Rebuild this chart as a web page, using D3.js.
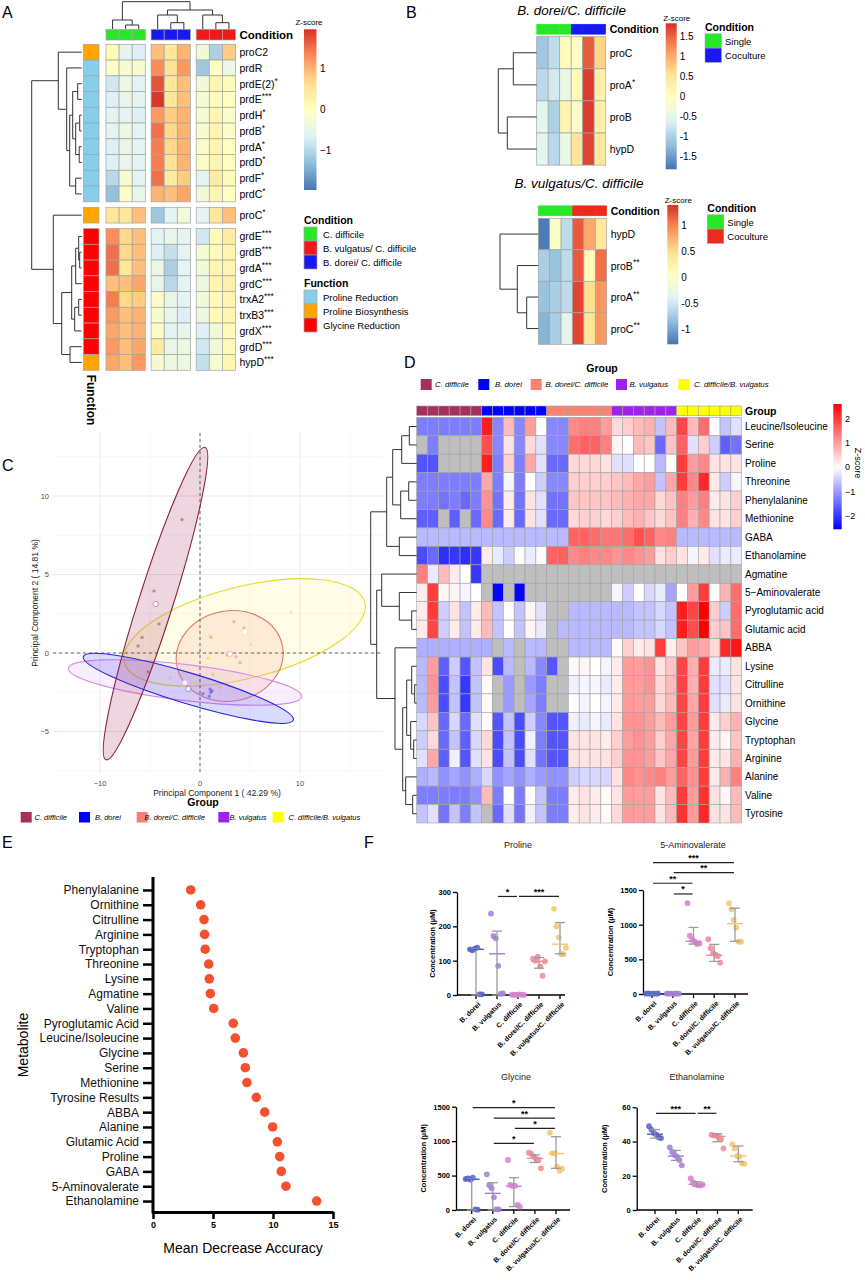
<!DOCTYPE html>
<html>
<head>
<meta charset="utf-8">
<script src="https://cdn.jsdelivr.net/npm/d3@7"></script>
<style>
  body { margin: 0; background: #fff; }
  svg text { font-family: "Liberation Sans", Arial, Helvetica, sans-serif; }
</style>
</head>
<body>
<svg id="fig" width="865" height="1280"></svg>
<script>
// ---------------- A : gene heatmap ----------------
var genesA = ["proC2","prdR","prdE(2)*","prdE***","prdH*","prdB*","prdA*","prdD*","prdF*","prdC*",
  "proC*","grdE***","grdB***","grdA***","grdC***","trxA2***","trxB3***","grdX***","grdD***","hypD***"];
var blockA = [0,0,0,0,0,0,0,0,0,0,1,2,2,2,2,2,2,2,2,2];
var functionA = ["Proline Biosynthesis","Proline Reduction","Proline Reduction","Proline Reduction","Proline Reduction",
  "Proline Reduction","Proline Reduction","Proline Reduction","Proline Reduction","Proline Reduction",
  "Proline Biosynthesis","Glycine Reduction","Glycine Reduction","Glycine Reduction","Glycine Reduction",
  "Glycine Reduction","Glycine Reduction","Glycine Reduction","Glycine Reduction","Proline Biosynthesis"];
var conditionA = ["C. difficile","C. difficile","C. difficile",
  "B. dorei/ C. difficile","B. dorei/ C. difficile","B. dorei/ C. difficile",
  "B. vulgatus/ C. difficile","B. vulgatus/ C. difficile","B. vulgatus/ C. difficile"];
var zA = [
  [0.1,-0.6,-0.7, 0.9,0.5,1.0, -0.3,-1.1,0.8],
  [-0.1,-0.2,-0.2, 1.3,0.6,1.2, -1.2,0.0,-0.4],
  [-0.8,-0.4,-0.6, 1.7,0.5,0.9, -0.3,0.2,0.1],
  [-0.7,-0.5,-0.6, 1.9,0.5,0.9, -0.2,0.1,0.0],
  [-0.6,-0.6,-0.7, 1.2,0.8,1.0, -0.2,0.2,-0.1],
  [-0.6,-0.4,-0.6, 1.5,0.7,1.0, -0.2,0.2,-0.1],
  [-0.7,-0.5,-0.6, 1.4,0.7,1.0, -0.1,0.2,0.0],
  [-0.7,-0.5,-0.6, 1.4,0.6,1.0, -0.1,0.2,0.0],
  [-1.0,-0.2,-0.6, 1.5,0.4,0.8, -0.6,0.4,0.1],
  [-1.3,-0.1,-0.5, 1.0,0.9,1.1, -0.3,0.2,0.0],
  [0.5,0.5,0.9, -1.2,-0.6,-0.3, -0.6,0.5,0.9],
  [1.3,0.7,0.9, -0.6,-0.5,-0.6, -0.8,0.1,0.4],
  [1.5,0.7,0.9, -0.7,-0.9,-0.6, -0.2,0.1,0.2],
  [1.5,0.5,0.9, -0.4,-1.1,-0.6, -0.3,0.2,0.2],
  [0.9,0.9,1.1, -0.5,-1.0,-0.6, -0.4,0.2,0.3],
  [1.4,0.7,0.8, -0.1,-0.5,-0.6, -0.3,0.1,0.2],
  [1.2,0.9,1.0, -0.2,-0.5,-0.7, -0.4,0.1,0.2],
  [1.1,0.9,1.0, -0.1,-0.6,-0.5, -0.7,-0.3,0.1],
  [1.2,0.9,1.1, 0.4,-0.5,-0.4, -0.8,-0.3,0.1],
  [1.1,0.9,1.2, -0.2,-0.4,-0.4, -0.9,-0.2,0.2]
];
// trees: [height, child, child]; leaves are row / column indices
var rowTreeA = [50,
  [23.4, 0, [15, 1, [12, [9, [4, 2, 3], [6, [2, 4, 5], [2.5, 6, 7]]], [6, 8, 9]]]],
  [28.4, 10, [20, [10, [6, [3, 11, [2, 12, 13]], 14], [7, [3, 15, 16], 17]], [11.7, 18, 19]]]];
var colTreeA = [27.3, [9, 0, [4, 1, 2]], [19, [14, 3, [6.3, 4, 5]], [14, 6, [6.3, 7, 8]]]];
var conditionLegendA = ["C. difficile","B. vulgatus/ C. difficile","B. dorei/ C. difficile"];
var functionLegendA = ["Proline Reduction","Proline Biosynthesis","Glycine Reduction"];
var ticksA = [1, 0, -1];

// ---------------- B : proline genes ----------------
var genesB1 = ["proC","proA*","proB","hypD"];
var zB1 = [
  [-1.1,-0.85,0.1,-0.05,1.55,0.7],
  [-0.9,-0.7,-0.4,0.1,1.75,0.3],
  [-0.5,-1.0,0.2,-0.1,1.75,0.3],
  [-0.5,-0.9,-0.4,0.5,1.7,0.45]
];
var rowTreeB1 = [38.4, [23.4, 0, 1], [29.4, 2, 3]];
var genesB2 = ["hypD","proB**","proA**","proC**"];
var zB2 = [
  [-1.25,0.0,-0.6,1.2,0.8,0.4],
  [-0.7,-0.8,-0.6,1.2,0.1,1.1],
  [-0.8,-0.7,-0.6,1.3,0.5,0.9],
  [-0.9,-0.7,-0.3,1.3,0.4,0.9]
];
var rowTreeB2 = [38.3, 0, [21, 1, [11.6, 2, 3]]];
var conditionB = ["Single","Single","Single","Coculture","Coculture","Coculture"];
var ticksB1 = [1.5, 1, 0.5, 0, -0.5, -1, -1.5];
var ticksB2 = [1, 0.5, 0, -0.5, -1];

// ---------------- C : PCA ----------------
var groupsC = ["C. difficile","B. dorei","B. dorei/C. difficile","B. vulgatus","C. difficile/B. vulgatus"];
var groupColors = ["#a6305d","#0000ff","#fa8072","#a020f0","#ffff00"];
var ellipseEdge = ["#8c1f45","#2424e6","#dd7a68","#d68fe6","#e8d82c"];
var ellipseFill = ["#a6305d","#3030ff","#f39a88","#dca0f0","#fff27a"];
// centre, end of major axis, minor/major ratio
var ellCentre = [[-4.45,3.15],[-1.17,-2.25],[2.97,-0.19],[-1.5,-1.88],[4.45,1.31]];
var ellTip = [[0.5,13.1],[9.33,-4.27],[8.26,0.4],[10.17,-2.78],[16.48,3.22]];
var ellRatio = [0.105, 0.14, 0.84, 0.153, 0.37];
var pcaCdiff = [[-1.8,8.5],[-4.6,3.95],[-4.1,1.85],[-5.8,1.0],[-6.2,0.45],[-5.2,-1.2]];
var pcaBdorei = [[1.0,-2.3],[1.07,-2.5],[0.93,-2.75],[-1.5,-1.9],[1.2,-2.4],[0.3,-2.6]];
var pcaBdCd = [[1.1,1.0],[3.4,2.0],[4.4,1.6],[2.7,-0.13],[3.6,-0.23],[4.0,-0.6]];
var pcaBvulg = [[-5.3,-1.4],[1.3,-1.4],[-3.0,-1.6],[0.5,-2.0],[-2.0,-1.5],[2.0,-2.2]];
var pcaCdBv = [[9.1,2.6],[5.1,0.55],[1.0,1.1],[0.8,-0.34],[4.5,1.4],[1.23,-1.3]];
var pcaMeans = [[-4.43,3.12],[-1.17,-2.29],[3.0,-0.06],[-1.5,-1.89],[4.5,1.36]];

// ---------------- D : metabolite heatmap ----------------
var metabolitesD = ["Leucine/Isoleucine","Serine","Proline","Threonine","Phenylalanine","Methionine","GABA",
  "Ethanolamine","Agmatine","5\u2212Aminovalerate","Pyroglutamic acid","Glutamic acid","ABBA","Lysine",
  "Citrulline","Ornithine","Glycine","Tryptophan","Arginine","Alanine","Valine","Tyrosine"];
var samplesPerGroupD = 6;
var N = null;
var zD = [
  [-1.3,-1.3,-1.3,-1.3,-1.3,-1.3, 2.3,-1.2,0.7,-1.2,1.0,0.0, -1.2,-1.2,1.2,1.3,1.3,1.0, 0.4,0.5,0.7,0.8,-0.6,0.7, 1.9,0.7,1.5,0.0,-0.6,-0.3],
  [N,-1.3,N,N,N,N, 1.8,-1.2,0.3,-1.2,0.4,-0.3, -1.2,-1.2,1.5,1.6,1.6,1.3, 0.1,0.0,0.7,0.6,-1.5,0.6, 1.6,-0.3,0.5,-0.5,-1.6,-1.4],
  [-1.7,-1.7,N,N,N,N, 2.3,-1.3,0.5,-1.3,0.9,-0.3, -1.5,-1.5,0.4,0.4,0.4,0.3, -0.3,-0.3,0.0,0.0,-0.7,0.0, 2.0,1.0,1.2,0.3,0.3,0.3],
  [-1.3,-1.3,-1.3,-1.3,-1.3,-1.3, 0.9,-1.3,-0.1,-1.3,0.0,-0.5, -1.2,-1.2,0.5,0.5,0.5,0.5, 0.6,0.7,0.9,1.0,-0.6,0.9, 2.0,1.2,2.2,0.2,-0.5,-0.1],
  [-1.3,-1.3,-1.4,-1.3,-1.5,-1.3, 1.1,-1.4,0.2,-1.4,0.3,-0.3, -1.4,-1.4,0.6,0.6,0.6,0.6, 0.7,0.8,0.9,0.9,0.4,0.6, 1.3,1.0,1.3,0.2,0.3,0.5],
  [-1.6,-1.6,N,-1.6,N,-1.5, 1.2,-1.5,0.2,-1.5,0.3,-0.3, -1.5,-1.5,0.4,0.5,0.5,0.4, 0.5,0.7,0.8,0.6,0.4,0.6, 1.3,0.8,1.2,0.3,0.3,0.5],
  [-0.7,-0.7,-0.7,-0.7,-0.7,-0.7, -0.7,-0.7,-0.7,-0.7,-0.7,-0.7, -0.7,-0.7,1.6,1.6,1.5,1.4, 1.4,1.5,1.8,1.6,1.2,1.3, -0.7,-0.7,-0.7,-0.7,-0.7,-0.7],
  [-1.8,-1.5,-2.1,-2.0,-2.1,-2.0, 0.2,-0.2,-0.5,0.0,-0.2,0.05, 1.6,1.6,1.2,1.3,1.2,1.2, 1.1,1.2,1.1,1.0,0.3,0.5, 0.3,-0.1,0.2,-0.3,-0.2,-0.2],
  [1.3,-0.2,0.7,0.2,0.0,-2.0, N,N,N,N,N,N, N,N,N,N,N,N, N,N,N,N,N,N, N,N,N,N,N,N],
  [0.2,2.0,0.1,0.1,-0.1,0.0, N,-2.5,N,-2.5,N,N, N,N,N,N,N,N, -0.1,-0.5,0.0,-0.4,-0.2,-0.9, 0.0,1.0,2.0,0.0,0.8,1.5],
  [0.2,2.0,-0.5,0.3,-0.6,0.2, 0.7,-0.6,0.0,-0.6,0.1,-0.3, N,N,-0.7,-0.7,-0.7,-0.7, -0.7,-0.7,-0.6,-0.6,-0.4,-0.6, 2.3,1.9,2.6,0.5,-0.5,1.5],
  [0.2,1.9,-0.5,0.2,-0.6,0.2, 0.7,-0.6,0.0,-0.6,0.1,-0.2, N,-0.7,-0.7,-0.7,-0.7,-0.7, -0.7,-0.7,-0.6,-0.6,-0.4,-0.6, 2.3,1.8,2.6,0.5,0.6,1.5],
  [-0.8,-0.8,-0.8,-0.8,-0.8,-0.8, -0.8,N,-0.7,N,-0.7,-0.7, N,N,-0.7,-0.7,-0.7,-0.7, 0.05,0.5,0.2,0.3,2.0,0.15, 0.6,1.0,0.9,0.4,2.2,2.4],
  [-0.7,1.0,-1.6,-0.5,-1.7,-0.6, 0.3,-1.8,-0.7,N,-0.7,-1.2, -1.7,N,0.05,0.1,0.0,-0.1, 0.2,1.0,1.0,1.1,0.3,0.6, 1.9,0.8,2.0,-0.2,-0.2,0.3],
  [-0.7,1.1,-1.8,-0.6,-2.0,-0.6, 0.05,N,-1.0,N,-1.0,-1.3, N,N,-0.15,-0.1,-0.1,-0.2, 0.2,1.0,1.0,1.1,0.4,0.7, 1.9,0.8,2.0,-0.3,-0.3,0.3],
  [-0.7,1.0,-1.8,-0.6,-2.0,-0.6, 0.05,N,-1.0,N,-0.9,-1.3, N,N,0.0,-0.1,0.0,-0.1, 0.2,1.0,1.0,1.0,0.4,0.7, 1.9,0.9,2.0,-0.3,-0.2,0.3],
  [-0.4,0.6,-1.5,-0.4,-1.5,-0.3, 0.05,-1.7,-0.6,-1.8,-0.5,-1.2, -1.7,-1.7,-0.15,-0.2,-0.1,-0.2, 0.3,1.1,1.1,1.0,0.7,1.0, 1.9,1.0,2.0,0.2,0.5,0.8],
  [-0.5,0.4,-1.5,-0.6,-1.6,-0.4, 0.4,-1.8,-0.6,-1.8,-0.15,-1.3, -1.7,-1.7,0.3,0.3,0.3,0.2, 0.5,1.0,1.1,1.0,0.5,0.9, 1.9,0.9,2.0,0.2,0.1,0.6],
  [-0.3,0.9,-1.6,-0.15,-1.7,-0.3, 0.3,-1.8,-0.6,-1.8,-0.3,-1.4, -1.7,-1.7,0.3,0.3,0.3,0.3, 0.5,1.1,1.1,1.0,0.6,0.9, 1.9,1.0,2.0,0.2,0.3,0.8],
  [-0.8,-0.7,-1.1,-0.9,-1.1,-0.8, -0.4,-1.1,-0.9,-1.1,-0.8,-1.0, -1.1,-1.1,-0.5,-0.4,-0.4,-0.4, 0.3,1.2,1.1,1.2,1.3,1.0, 1.6,1.1,2.0,0.2,0.8,1.3],
  [-1.3,-1.3,-1.3,-1.3,-1.3,-1.1, 0.7,-1.3,0.0,-1.3,0.0,-0.6, -1.3,-1.3,0.2,0.3,0.2,0.05, 0.3,1.0,1.0,1.0,0.3,0.7, 2.0,1.0,2.1,0.3,0.1,0.7],
  [-0.6,-0.3,-1.4,-0.6,-1.3,-0.6, N,-1.5,-0.3,-1.4,-0.15,-0.6, -1.3,-1.3,0.2,0.3,0.2,0.05, 0.4,1.0,1.0,1.0,0.3,0.7, 2.1,1.0,2.2,0.3,0.3,0.7]
];
var rowTreeD = [46,
  [30, [24, [15, 2, [7.4, 0, 1]], [16, [8, 3, 4], 5]], [17.4, 6, 7]],
  [40, [35, 8, [17.4, 9, [5, 10, 11]]],
       [21.7, 12, [14, [10, [5, 13, [2, 14, 15]], [6, 16, [3, 17, 18]]], [11, 19, [4, 20, 21]]]]]];
var ticksD = [2, 1, 0, -1, -2];

// ---------------- E : random forest importance ----------------
var metabolitesE = ["Phenylalanine","Ornithine","Citrulline","Arginine","Tryptophan","Threonine","Lysine","Agmatine",
  "Valine","Pyroglutamic Acid","Leucine/Isoleucine","Glycine","Serine","Methionine","Tyrosine Results","ABBA",
  "Alanine","Glutamic Acid","Proline","GABA","5-Aminovalerate","Ethanolamine"];
var accuracyE = [3.14,3.97,4.25,4.30,4.35,4.64,4.69,4.78,5.06,6.69,6.86,7.53,7.69,7.83,8.61,9.31,9.97,10.36,10.56,10.69,11.08,13.64];

// ---------------- F : concentrations ----------------
var groupsF = ["B. dorei","B. vulgatus","C. difficile","B. dorei/C. difficile","B. vulgatus/C. difficile"];
var colorsF = ["#5262c8","#a07cd8","#d97ed0","#ee8a96","#f6c46e"];
var prolinePts = [[133,130,135,138,2,2],[237,172,165,85,3,5],[1,1,0,2,1,0],[106,100,112,83,56,98],[251,200,168,119,119,137]];
var prolineBars = [[133,0,135],[120,0,186],[0,0,0],[98,78,109],[148,120,211]];
var prolineSig = [[1,2,287,"*"],[2,4,287,"***"]];
var aminoPts = [[5,8,3,6,4,7],[4,6,5,3,7,5],[1310,840,780,760,720,730],[790,660,590,568,545,452],[1310,1222,1068,957,755,755]];
var aminoBars = [[5,0,8],[5,0,7],[760,720,960],[560,470,715],[1015,760,1237]];
var aminoSig = [[0,4,1895,"***"],[1,4,1750,"**"],[0,2,1597,"**"],[1,2,1443,"*"]];
var glycinePts = [[450,460,440,470,10,5],[518,363,315,184,10,10],[726,363,348,353,73,48],[832,813,774,745,726,605],[1122,823,823,629,571,600]];
var glycineBars = [[445,0,455],[242,0,396],[345,50,469],[750,690,800],[820,605,1064]];
var glycineSig = [[0,4,1486,"*"],[1,4,1335,"**"],[2,4,1185,"*"],[1,3,968,"*"]];
var ethanolPts = [[49,47,45,44,42.5,42],[36.6,33.9,32.1,31.2,29.2,26.1],[18.5,16.2,15,14.5,14.3,14.8],[44,43.5,43.5,42.8,41.3,36],[38.5,36,31.5,31.2,27.3,27]];
var ethanolBars = [[44.3,42,47],[31.5,29,34.8],[15,14,16.5],[43,39.9,44.5],[31.5,28.2,37.4]];
var ethanolSig = [[0,2,56.5,"***"],[2,3,56.5,"**"]];

// =====================================================
var svg = d3.select("#fig");
var defs = svg.append("defs");

function text(g, x, y, s, o) {
  o = o || {};
  var t = g.append("text").attr("x", x).attr("y", y)
    .attr("font-size", o.size || 10)
    .attr("font-weight", o.weight || "normal")
    .attr("font-style", o.style || "normal")
    .attr("fill", o.fill || "#000")
    .attr("text-anchor", o.anchor || "start")
    .attr("dominant-baseline", o.base || "central");
  if (o.rotate) t.attr("transform", "rotate(" + o.rotate + "," + x + "," + y + ")");
  var m = o.stars ? s.match(/^(.*?)(\*+)$/) : null;
  if (m) {
    t.append("tspan").text(m[1]);
    t.append("tspan").attr("font-size", (o.size || 10) * 0.8).attr("dy", -(o.size || 10) * 0.3).text(m[2]);
  } else t.text(s);
  return t;
}

function drawTree(g, tree, leafPos, leafEdge, dir) {
  function seg(d1, p1, d2, p2) {
    var l = g.append("line").attr("stroke", "#333").attr("stroke-width", 1);
    if (dir === "row") l.attr("x1", d1).attr("y1", p1).attr("x2", d2).attr("y2", p2);
    else l.attr("x1", p1).attr("y1", d1).attr("x2", p2).attr("y2", d2);
  }
  function walk(n) {
    if (typeof n === "number") return {p: leafPos(n), d: leafEdge};
    var kids = n.slice(1).map(walk);
    var d = leafEdge - n[0];
    var ext = d3.extent(kids, function (k) { return k.p; });
    seg(d, ext[0], d, ext[1]);
    kids.forEach(function (k) { seg(d, k.p, k.d, k.p); });
    return {p: d3.mean(kids, function (k) { return k.p; }), d: d};
  }
  walk(tree);
}

function gradient(id, scale, top, bottom) {
  var lg = defs.append("linearGradient").attr("id", id)
    .attr("x1", 0).attr("y1", 0).attr("x2", 0).attr("y2", 1);
  d3.range(0, 1.0001, 0.05).forEach(function (f) {
    lg.append("stop").attr("offset", f).attr("stop-color", scale(top + (bottom - top) * f));
  });
}

var rdylbu = ["#4575B4","#91BFDB","#E0F3F8","#FFFFBF","#FEE090","#FC8D59","#D73027"];
function divScale(lo, hi) {
  return d3.scaleLinear().domain(d3.range(7).map(function (i) { return lo + (hi - lo) * i / 6; })).range(rdylbu);
}

// panel letters
[["A",2,12],["B",406,12],["C",2,465],["D",404,362],["E",2,842],["F",364,842]].forEach(function (p) {
  text(svg, p[1], p[2], p[0], {size: 16});
});

// ================= Panel A =================
(function () {
  var g = svg.append("g");
  var color = divScale(-1.97, 1.95);
  var condColor = d3.scaleOrdinal().domain(conditionLegendA).range(["#27e827","#f01818","#1818f0"]);
  var funColor = d3.scaleOrdinal().domain(functionLegendA).range(["#87ceeb","#ffa500","#ff0000"]);
  var cw = 13.1, rh = 15.75;
  var colB = d3.scaleBand().domain(d3.range(9)).range([106, 106 + 9 * cw]);
  var rowB = d3.scaleBand().domain(d3.range(genesA.length)).range([44.3, 44.3 + genesA.length * rh]);
  function cx(j) { return colB(j) + Math.floor(j / 3) * 5.8; }
  function ry(i) { return rowB(i) + blockA[i] * 5.5; }

  genesA.forEach(function (gene, i) {
    zA[i].forEach(function (v, j) {
      g.append("rect").attr("x", cx(j)).attr("y", ry(i)).attr("width", cw).attr("height", rh)
        .attr("fill", color(v)).attr("stroke", "#a3a3a3").attr("stroke-width", 0.7);
    });
    g.append("rect").attr("x", 83.5).attr("y", ry(i)).attr("width", 15.5).attr("height", rh)
      .attr("fill", funColor(functionA[i])).attr("stroke", "#a3a3a3").attr("stroke-width", 0.7);
    text(g, 239.5, ry(i) + rh / 2, gene, {size: 10.5, stars: true});
  });
  conditionA.forEach(function (c, j) {
    g.append("rect").attr("x", cx(j)).attr("y", 29.3).attr("width", cw).attr("height", 10.7)
      .attr("fill", condColor(c)).attr("stroke", "#a3a3a3").attr("stroke-width", 0.7);
  });
  text(g, 239.5, 35, "Condition", {size: 11.5, weight: "bold"});
  text(g, 91.3, 400, "Function", {size: 12, weight: "bold", anchor: "middle", rotate: 90});

  drawTree(g, rowTreeA, function (i) { return ry(i) + rh / 2; }, 81.7, "row");
  drawTree(g, colTreeA, function (j) { return cx(j) + cw / 2; }, 29, "col");

  // z legend
  gradient("gradA", color, 1.95, -1.97);
  var ly = d3.scaleLinear().domain([1.95, -1.97]).range([29.3, 190]);
  g.append("rect").attr("x", 304).attr("y", 29.3).attr("width", 12.5).attr("height", 160.7).attr("fill", "url(#gradA)");
  text(g, 309, 22, "Z-score", {size: 8, anchor: "middle"});
  ticksA.forEach(function (t) { text(g, 320, ly(t), t < 0 ? "\u2212" + Math.abs(t) : String(t), {size: 10}); });

  text(g, 304, 220, "Condition", {size: 10.5, weight: "bold"});
  conditionLegendA.forEach(function (c, k) {
    g.append("rect").attr("x", 304).attr("y", 227 + k * 14).attr("width", 13).attr("height", 14)
      .attr("fill", condColor(c)).attr("stroke", "#a3a3a3").attr("stroke-width", 0.7);
    text(g, 323, 234 + k * 14, c, {size: 9.5});
  });
  text(g, 304, 283, "Function", {size: 10.5, weight: "bold"});
  functionLegendA.forEach(function (c, k) {
    g.append("rect").attr("x", 304).attr("y", 290 + k * 14).attr("width", 13).attr("height", 14)
      .attr("fill", funColor(c)).attr("stroke", "#a3a3a3").attr("stroke-width", 0.7);
    text(g, 323, 297 + k * 14, c, {size: 9.5});
  });
})();

// ================= Panel B =================
function panelB(genes, z, tree, o) {
  var g = svg.append("g");
  var color = divScale(o.lo, o.hi);
  var cond = d3.scaleOrdinal().domain(["Single", "Coculture"]).range(["#27e827", o.cocolor]);
  var colB = d3.scaleBand().domain(d3.range(6)).range([o.x, o.x + 6 * o.cw]);
  var rowB = d3.scaleBand().domain(d3.range(genes.length)).range([o.y, o.y + genes.length * o.rh]);
  text(g, o.tx, o.ty, o.title, {size: 13.5, style: "italic", anchor: "middle"});
  conditionB.forEach(function (c, j) {
    g.append("rect").attr("x", colB(j)).attr("y", o.y - 12.5).attr("width", o.cw).attr("height", 10)
      .attr("fill", cond(c)).attr("stroke", cond(c)).attr("stroke-width", 0.5);
  });
  text(g, o.x + 6 * o.cw + 4, o.y - 7.5, "Condition", {size: 10.5, weight: "bold"});
  genes.forEach(function (gene, i) {
    z[i].forEach(function (v, j) {
      g.append("rect").attr("x", colB(j)).attr("y", rowB(i)).attr("width", o.cw).attr("height", o.rh)
        .attr("fill", color(v)).attr("stroke", "#a3a3a3").attr("stroke-width", 0.7);
    });
    text(g, o.x + 6 * o.cw + 4, rowB(i) + o.rh / 2, gene, {size: 10.5, stars: true});
  });
  drawTree(g, tree, function (i) { return rowB(i) + o.rh / 2; }, o.x, "row");

  gradient(o.id, color, o.hi, o.lo);
  var ly = d3.scaleLinear().domain([o.hi, o.lo]).range([o.ly0, o.ly1]);
  g.append("rect").attr("x", o.lx).attr("y", o.ly0).attr("width", 11).attr("height", o.ly1 - o.ly0).attr("fill", "url(#" + o.id + ")");
  text(g, o.lx + 11, o.ly0 - 5, "Z-score", {size: 8, anchor: "middle"});
  o.ticks.forEach(function (t) { text(g, o.lx + 14, ly(t), String(t), {size: 10}); });

  text(g, o.cx, o.cy, "Condition", {size: 10.5, weight: "bold"});
  ["Single", "Coculture"].forEach(function (c, k) {
    g.append("rect").attr("x", o.cx).attr("y", o.cy + 6.5 + k * 14.3).attr("width", 16.5).attr("height", 14.3)
      .attr("fill", cond(c)).attr("stroke", "#a3a3a3").attr("stroke-width", 0.5);
    text(g, o.cx + 20, o.cy + 14 + k * 14.3, c, {size: 9.5});
  });
}
panelB(genesB1, zB1, rowTreeB1, {x: 536.7, y: 36.7, cw: 11.5, rh: 32.1, lo: -1.815, hi: 1.835, cocolor: "#1818f0",
  title: "B. dorei/C. difficile", tx: 571.7, ty: 10, id: "gradB1", lx: 665.7, ly0: 23.3, ly1: 169.3, ticks: ticksB1, cx: 705, cy: 27.3});
panelB(genesB2, zB2, rowTreeB2, {x: 538.3, y: 218.3, cw: 11.4, rh: 31.5, lo: -1.29, hi: 1.4, cocolor: "#ee2a1a",
  title: "B. vulgatus/C. difficile", tx: 579, ty: 183, id: "gradB2", lx: 667.3, ly0: 205, ly1: 344.3, ticks: ticksB2, cx: 707.3, cy: 208.3});

// ================= Panel C =================
(function () {
  var g = svg.append("g");
  var x = d3.scaleLinear().domain([-10, 10]).range([100, 300]);
  var y = d3.scaleLinear().domain([-5, 10]).range([731.5, 496]);
  var X0 = 53, X1 = 383, Y0 = 433, Y1 = 773;
  [-5, 5, 15].forEach(function (v) {
    g.append("line").attr("x1", x(v)).attr("x2", x(v)).attr("y1", Y0).attr("y2", Y1).attr("stroke", "#f2f2f2").attr("stroke-width", 0.6);
  });
  [-7.5, -2.5, 2.5, 7.5, 12.5].forEach(function (v) {
    g.append("line").attr("x1", X0).attr("x2", X1).attr("y1", y(v)).attr("y2", y(v)).attr("stroke", "#f2f2f2").attr("stroke-width", 0.6);
  });
  [-10, 0, 10].forEach(function (v) {
    g.append("line").attr("x1", x(v)).attr("x2", x(v)).attr("y1", Y0).attr("y2", Y1).attr("stroke", "#e6e6e6").attr("stroke-width", 0.9);
    text(g, x(v), 783, v < 0 ? "\u2212" + Math.abs(v) : String(v), {size: 7.5, fill: "#4d4d4d", anchor: "middle"});
  });
  [-5, 0, 5, 10].forEach(function (v) {
    g.append("line").attr("x1", X0).attr("x2", X1).attr("y1", y(v)).attr("y2", y(v)).attr("stroke", "#e6e6e6").attr("stroke-width", 0.9);
    text(g, 49, y(v), v < 0 ? "\u2212" + Math.abs(v) : String(v), {size: 7.5, fill: "#4d4d4d", anchor: "end"});
  });

  var order = [4, 2, 3, 1, 0];
  order.forEach(function (k) {
    var c = [x(ellCentre[k][0]), y(ellCentre[k][1])];
    var t = [x(ellTip[k][0]), y(ellTip[k][1])];
    var a = Math.hypot(t[0] - c[0], t[1] - c[1]);
    var ang = Math.atan2(t[1] - c[1], t[0] - c[0]) * 180 / Math.PI;
    g.append("ellipse").attr("rx", a).attr("ry", a * ellRatio[k])
      .attr("transform", "translate(" + c[0] + "," + c[1] + ") rotate(" + ang + ")")
      .attr("fill", ellipseFill[k]).attr("fill-opacity", k === 0 ? 0.2 : 0.18)
      .attr("stroke", ellipseEdge[k]).attr("stroke-width", 1.1);
  });

  g.append("line").attr("x1", X0).attr("x2", X1).attr("y1", y(0)).attr("y2", y(0))
    .attr("stroke", "#444").attr("stroke-width", 0.8).attr("stroke-dasharray", "3,3");
  g.append("line").attr("x1", x(0)).attr("x2", x(0)).attr("y1", Y0).attr("y2", Y1)
    .attr("stroke", "#444").attr("stroke-width", 0.8).attr("stroke-dasharray", "3,3");

  [pcaCdiff, pcaBdorei, pcaBdCd, pcaBvulg, pcaCdBv].forEach(function (pts, k) {
    pts.forEach(function (p) {
      g.append("circle").attr("cx", x(p[0])).attr("cy", y(p[1])).attr("r", 1.6)
        .attr("fill", ellipseEdge[k]).attr("fill-opacity", 0.45);
    });
    g.append("circle").attr("cx", x(pcaMeans[k][0])).attr("cy", y(pcaMeans[k][1])).attr("r", 2.6)
      .attr("fill", "#fff").attr("stroke", ellipseEdge[k]).attr("stroke-opacity", 0.6).attr("stroke-width", 0.7);
  });

  text(g, 217, 793, "Principal Component 1 ( 42.29 %)", {size: 8.5, fill: "#222", anchor: "middle"});
  text(g, 35, 603, "Principal Component 2 ( 14.81 %)", {size: 8.5, fill: "#222", anchor: "middle", rotate: -90});
  text(g, 203, 802, "Group", {size: 10.5, weight: "bold", anchor: "middle"});
  var sw = [20.7, 79, 136.7, 218.3, 272.7], tx = [34.5, 95, 144.5, 229.5, 288.5];
  groupsC.forEach(function (gr, k) {
    g.append("rect").attr("x", sw[k]).attr("y", 812).attr("width", 11).attr("height", 10.5).attr("fill", groupColors[k]);
    text(g, tx[k], 817.5, gr, {size: 7.5, style: "italic"});
  });
})();

// ================= Panel D =================
(function () {
  var g = svg.append("g");
  var cols = d3.merge(groupsC.map(function (gr) { return d3.range(samplesPerGroupD).map(function () { return gr; }); }));
  var gcol = d3.scaleOrdinal().domain(groupsC).range(groupColors);
  var color = d3.scaleLinear().domain([-2.55, 0, 2.6]).range(["#0000ff", "#ffffff", "#ff0000"]);
  var x = d3.scaleBand().domain(d3.range(cols.length)).range([416.7, 741.7]);
  var y = d3.scaleBand().domain(metabolitesD).range([417.3, 823]);

  cols.forEach(function (gr, j) {
    g.append("rect").attr("x", x(j)).attr("y", 406).attr("width", x.bandwidth()).attr("height", 9.6)
      .attr("fill", gcol(gr)).attr("stroke", "#a3a3a3").attr("stroke-width", 0.6);
  });
  text(g, 745, 411, "Group", {size: 10.5, weight: "bold"});
  metabolitesD.forEach(function (m, i) {
    zD[i].forEach(function (v, j) {
      g.append("rect").attr("x", x(j)).attr("y", y(m)).attr("width", x.bandwidth()).attr("height", y.bandwidth())
        .attr("fill", v === null ? "#bebebe" : color(v)).attr("stroke", "#a3a3a3").attr("stroke-width", 0.6);
    });
    text(g, 745, y(m) + y.bandwidth() / 2, m, {size: 10});
  });
  drawTree(g, rowTreeD, function (i) { return y(metabolitesD[i]) + y.bandwidth() / 2; }, 416.7, "row");

  // group legend
  text(g, 602, 368, "Group", {size: 10.5, weight: "bold", anchor: "middle"});
  var sw = [420.7, 478.3, 530.7, 616, 678.3], tx = [435, 495, 545.5, 629.5, 694];
  groupsC.forEach(function (gr, k) {
    g.append("rect").attr("x", sw[k]).attr("y", 379).attr("width", 11).attr("height", 11).attr("fill", groupColors[k]);
    text(g, tx[k], 384.5, gr, {size: 7.8, style: "italic"});
  });

  gradient("gradD", color, 2.6, -2.55);
  var ly = d3.scaleLinear().domain([2.6, -2.55]).range([404, 529.3]);
  g.append("rect").attr("x", 833.3).attr("y", 404).attr("width", 8.4).attr("height", 125.3).attr("fill", "url(#gradD)");
  ticksD.forEach(function (t) { text(g, 845, ly(t), t < 0 ? "\u2212" + Math.abs(t) : String(t), {size: 9}); });
  text(g, 858, 463, "Z-score", {size: 9, anchor: "middle", rotate: 90});
})();

// ================= Panel E =================
(function () {
  var g = svg.append("g");
  var x = d3.scaleLinear().domain([0, 15]).range([153, 333]);
  var y = d3.scalePoint().domain(metabolitesE).range([877, 1214]).padding(0.875);
  var ya = g.append("g").attr("transform", "translate(153,0)")
    .call(d3.axisLeft(y).tickSize(10).tickSizeOuter(0).tickPadding(4));
  ya.select(".domain").attr("stroke-width", 3).attr("d", "M0,877V1213.5");
  ya.selectAll(".tick line").attr("stroke-width", 2.5);
  ya.selectAll(".tick text").attr("font-size", 12).attr("fill", "#111")
    .attr("font-family", "'Liberation Sans', Arial, sans-serif");
  var xa = g.append("g").attr("transform", "translate(0,1212)")
    .call(d3.axisBottom(x).tickValues([0, 5, 10, 15]).tickSize(7).tickSizeOuter(0).tickPadding(3));
  xa.select(".domain").attr("stroke-width", 3);
  xa.selectAll(".tick line").attr("stroke-width", 2.5);
  xa.selectAll(".tick text").attr("font-size", 9).attr("font-weight", "bold")
    .attr("font-family", "'Liberation Sans', Arial, sans-serif");
  g.selectAll("circle.dot").data(metabolitesE).enter().append("circle").attr("class", "dot")
    .attr("cx", function (d, i) { return x(accuracyE[i]); })
    .attr("cy", function (d) { return y(d); })
    .attr("r", 4.8).attr("fill", "#f4502e");
  text(g, 243, 1248, "Mean Decrease Accuracy", {size: 14, anchor: "middle"});
  text(g, 23, 1045, "Metabolite", {size: 14, anchor: "middle", rotate: -90});
})();

// ================= Panel F =================
function panelF(pts, bars, sig, o) {
  var g = svg.append("g");
  var y = d3.scaleLinear().domain([0, o.max]).range([o.y0, o.yt]);
  var x = d3.scalePoint().domain(groupsF).range([o.x0, o.x1]);
  var jit = d3.scalePoint().domain(d3.range(6)).range([-6, 6]);
  text(g, o.tx, o.ty, o.title, {size: 9, anchor: "middle", fill: "#222"});

  var ya = g.append("g").attr("transform", "translate(" + o.ax + ",0)")
    .call(d3.axisLeft(y).tickValues(o.ticks).tickFormat(d3.format("d")).tickSize(4).tickSizeOuter(0).tickPadding(2));
  ya.select(".domain").attr("stroke-width", 1.3);
  ya.selectAll(".tick line").attr("stroke-width", 1.3);
  ya.selectAll(".tick text").attr("font-size", 7.5).attr("font-weight", "bold")
    .attr("font-family", "'Liberation Sans', Arial, sans-serif");
  g.append("line").attr("x1", o.ax).attr("x2", o.xe).attr("y1", o.y0).attr("y2", o.y0).attr("stroke", "#000").attr("stroke-width", 1.3);
  groupsF.forEach(function (gr) {
    g.append("line").attr("x1", x(gr)).attr("x2", x(gr)).attr("y1", o.y0).attr("y2", o.y0 + 4).attr("stroke", "#000").attr("stroke-width", 1.3);
    text(g, x(gr) + 3, o.y0 + 8, gr, {size: 7, weight: "bold", anchor: "end", rotate: -45});
  });
  text(g, o.lx, (o.y0 + o.yt) / 2, "Concentration (\u00b5M)", {size: 7.5, weight: "bold", anchor: "middle", rotate: -90});

  groupsF.forEach(function (gr, k) {
    var cx = x(gr), b = bars[k];
    pts[k].forEach(function (v, i) {
      g.append("circle").attr("cx", cx + jit(i)).attr("cy", y(v)).attr("r", 2.9)
        .attr("fill", colorsF[k]).attr("fill-opacity", 0.85);
    });
    g.append("line").attr("x1", cx).attr("x2", cx).attr("y1", y(b[1])).attr("y2", y(b[2])).attr("stroke", "#9c9c9c").attr("stroke-width", 1.3);
    [b[1], b[2]].forEach(function (v) {
      g.append("line").attr("x1", cx - 5).attr("x2", cx + 5).attr("y1", y(v)).attr("y2", y(v)).attr("stroke", "#9c9c9c").attr("stroke-width", 1.3);
    });
    g.append("line").attr("x1", cx - 8).attr("x2", cx + 8).attr("y1", y(b[0])).attr("y2", y(b[0])).attr("stroke", colorsF[k]).attr("stroke-width", 1.4);
  });

  sig.forEach(function (s) {
    var a = x(groupsF[s[0]]), b = x(groupsF[s[1]]);
    g.append("line").attr("x1", a + 1).attr("x2", b - 1).attr("y1", y(s[2])).attr("y2", y(s[2])).attr("stroke", "#222").attr("stroke-width", 1.2);
    text(g, (a + b) / 2, y(s[2]) - 4.5, s[3], {size: 9, weight: "bold", anchor: "middle"});
  });
}
panelF(prolinePts, prolineBars, prolineSig, {title: "Proline", max: 300, ticks: [0, 100, 200, 300],
  ax: 457, x0: 476, x1: 560, xe: 565, y0: 995, yt: 892, tx: 518, ty: 845, lx: 432});
panelF(aminoPts, aminoBars, aminoSig, {title: "5-Aminovalerate", max: 1500, ticks: [0, 500, 1000, 1500],
  ax: 643, x0: 652, x1: 735, xe: 748, y0: 994, yt: 890, tx: 693, ty: 845, lx: 610});
panelF(glycinePts, glycineBars, glycineSig, {title: "Glycine", max: 1500, ticks: [0, 500, 1000, 1500],
  ax: 456, x0: 471.7, x1: 556, xe: 570, y0: 1210, yt: 1106.7, tx: 516, ty: 1077, lx: 424});
panelF(ethanolPts, ethanolBars, ethanolSig, {title: "Ethanolamine", max: 60, ticks: [0, 20, 40, 60],
  ax: 636.7, x0: 655, x1: 738.3, xe: 752.7, y0: 1210, yt: 1107.3, tx: 697, ty: 1077, lx: 605});
</script>
</body>
</html>
